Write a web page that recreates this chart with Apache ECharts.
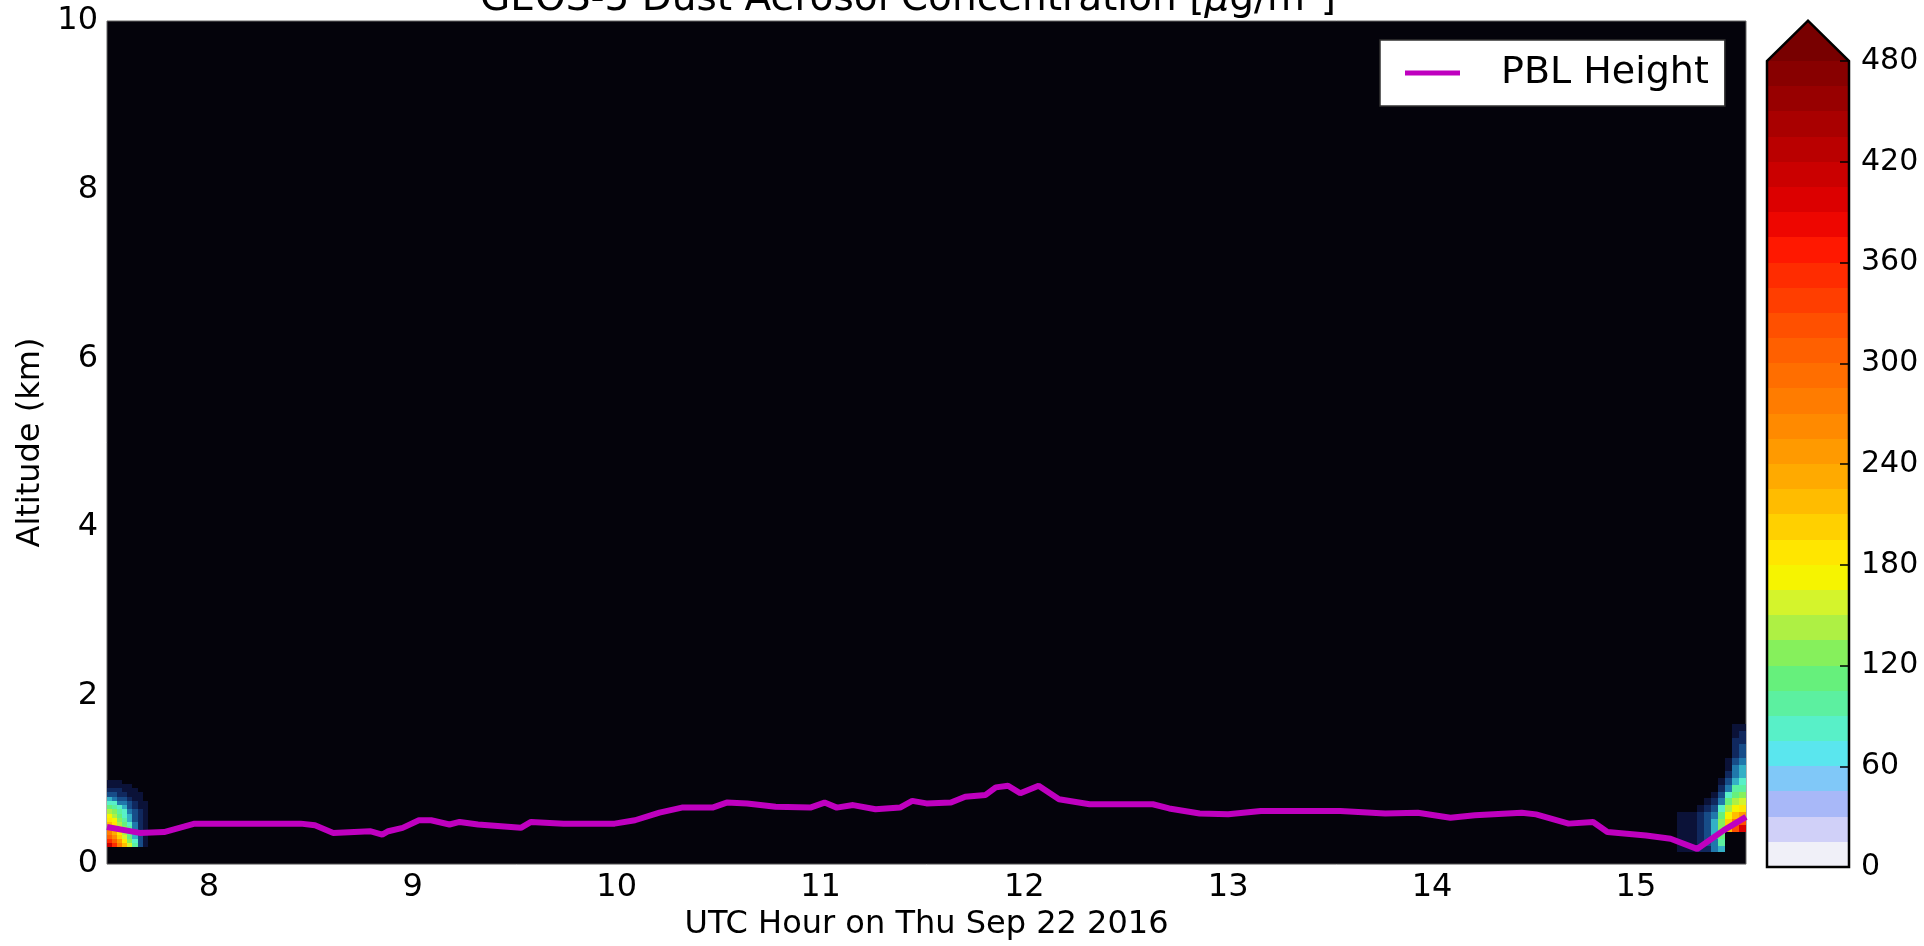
<!DOCTYPE html>
<html>
<head>
<meta charset="utf-8">
<title>GEOS-5 Dust Aerosol Concentration</title>
<script src="https://cdn.jsdelivr.net/npm/echarts@6/dist/echarts.min.js"></script>
<style>
  html, body { margin: 0; padding: 0; background: #fff; }
  #main { width: 1924px; height: 946px; }
</style>
</head>
<body>
<div id="main"></div>
<script>
// ticks
var xTicks = [8, 9, 10, 11, 12, 13, 14, 15];
var cbTicks = [0, 60, 120, 180, 240, 300, 360, 420, 480];

// contour levels, 0..480 by 15, plus an "over" colour for the arrow
var levelStep = 15;
var levelColors = [
  '#f0f0f8', '#d0d0f8', '#a8b8f8', '#80c8f8', '#5ae6ee', '#58f0c8', '#5cf0a0', '#66f07c',
  '#86f05c', '#aef044', '#d4f42c', '#f6f400', '#ffe600', '#ffd000', '#ffbc00', '#ffaa00',
  '#ff9a00', '#ff8a00', '#ff7c00', '#ff6e00', '#ff6000', '#ff5000', '#ff3e00', '#ff2c00',
  '#ff1800', '#ee0600', '#dc0000', '#cb0000', '#ba0000', '#a90000', '#980000', '#880000'
];
var overColor = '#780000';
// the faint levels look dark blue over the black curtain
var lowPlotColors = ['#0b1238', '#10285e', '#174c88', '#2078ac', '#34b0c6'];

// PBL height (km) along the flight
var pblHours = [7.50, 7.66, 7.78, 7.93, 8.45, 8.52, 8.61, 8.79, 8.85, 8.88,
  8.95, 9.03, 9.09, 9.18, 9.23, 9.32, 9.53, 9.58, 9.74, 9.99,
  10.09, 10.21, 10.32, 10.47, 10.54, 10.64, 10.78, 10.95, 11.02, 11.08,
  11.16, 11.27, 11.39, 11.45, 11.52, 11.64, 11.71, 11.81, 11.86, 11.92,
  11.98, 12.07, 12.17, 12.32, 12.53, 12.63, 12.71, 12.86, 13.00, 13.16,
  13.55, 13.77, 13.93, 14.09, 14.21, 14.44, 14.51, 14.67, 14.79, 14.86,
  15.05, 15.17, 15.30, 15.43, 15.54];
var pblAlt = [0.44, 0.37, 0.38, 0.48, 0.48, 0.46, 0.37, 0.39, 0.35, 0.39,
  0.43, 0.52, 0.52, 0.47, 0.50, 0.47, 0.43, 0.50, 0.48, 0.48,
  0.52, 0.61, 0.67, 0.67, 0.73, 0.72, 0.68, 0.67, 0.73, 0.67,
  0.70, 0.65, 0.67, 0.75, 0.72, 0.73, 0.80, 0.82, 0.91, 0.93,
  0.84, 0.93, 0.77, 0.71, 0.71, 0.71, 0.66, 0.60, 0.59, 0.63,
  0.63, 0.60, 0.61, 0.55, 0.58, 0.61, 0.59, 0.48, 0.50, 0.38,
  0.34, 0.30, 0.18, 0.40, 0.56];

// dust at the start of the curtain (ug/m3), rows bottom -> top
var leftDt = 0.025, leftDz = 0.05;
var leftTimes = [7.5125, 7.5375, 7.5625, 7.5875, 7.6125, 7.6375, 7.6625, 7.6875];
var leftAlts = [0.225, 0.275, 0.325, 0.375, 0.425, 0.475, 0.525, 0.575,
  0.625, 0.675, 0.725, 0.775, 0.825, 0.875, 0.925, 0.975];
var leftDust = [
  [407, 349, 273, 210, 151, 92, 42, 13],
  [359, 307, 240, 185, 133, 81, 37, 11],
  [310, 266, 208, 160, 115, 70, 32, 10],
  [276, 237, 185, 143, 103, 63, 29, 9],
  [247, 212, 166, 128, 92, 56, 26, 8],
  [218, 187, 146, 113, 81, 50, 23, 7],
  [194, 166, 130, 100, 72, 44, 20, 6],
  [173, 148, 116, 89, 64, 39, 18, 5],
  [146, 125, 98, 75, 54, 33, 15, 5],
  [116, 100, 78, 60, 43, 26, 12, 4],
  [87, 75, 59, 45, 32, 20, 9, 3],
  [60, 51, 40, 31, 22, 14, 6, 0],
  [39, 33, 26, 20, 14, 9, 4, 0],
  [23, 20, 16, 12, 9, 5, 0, 0],
  [12, 10, 8, 6, 4, 0, 0, 0],
  [5, 4, 3, 0, 0, 0, 0, 0]
];

// dust at the end of the curtain
var rightDt = 0.034, rightDz = 0.08;
var rightTimes = [15.217, 15.251, 15.285, 15.319, 15.353, 15.387, 15.421, 15.455, 15.489, 15.523];
var rightAlts = [0.18, 0.26, 0.34, 0.42, 0.50, 0.58, 0.66, 0.74, 0.82, 0.90,
  0.98, 1.06, 1.14, 1.22, 1.30, 1.38, 1.46, 1.54, 1.62];
var rightDust = [
  [8, 10, 12, 16, 25, 45, 70, 0, 0, 0],
  [8, 10, 14, 20, 32, 55, 90, 0, 0, 0],
  [8, 10, 14, 22, 36, 62, 105, 0, 0, 0],
  [8, 10, 14, 22, 38, 70, 130, 220, 320, 390],
  [8, 10, 13, 20, 36, 68, 125, 200, 270, 320],
  [6, 8, 11, 17, 30, 58, 110, 170, 210, 240],
  [0, 0, 0, 8, 18, 40, 85, 140, 175, 190],
  [0, 0, 0, 0, 8, 22, 55, 105, 140, 150],
  [0, 0, 0, 0, 0, 10, 30, 75, 110, 120],
  [0, 0, 0, 0, 0, 0, 15, 50, 90, 100],
  [0, 0, 0, 0, 0, 0, 8, 30, 70, 85],
  [0, 0, 0, 0, 0, 0, 0, 18, 55, 70],
  [0, 0, 0, 0, 0, 0, 0, 10, 45, 60],
  [0, 0, 0, 0, 0, 0, 0, 6, 35, 50],
  [0, 0, 0, 0, 0, 0, 0, 0, 28, 40],
  [0, 0, 0, 0, 0, 0, 0, 0, 22, 32],
  [0, 0, 0, 0, 0, 0, 0, 0, 16, 25],
  [0, 0, 0, 0, 0, 0, 0, 0, 12, 18],
  [0, 0, 0, 0, 0, 0, 0, 0, 8, 12]
];

function toCells(times, alts, grid, dt, dz) {
  var out = [];
  for (var j = 0; j < alts.length; j++) {
    for (var i = 0; i < times.length; i++) {
      if (grid[j][i] > 0) out.push([times[i], alts[j], grid[j][i], dt, dz]);
    }
  }
  return out;
}
var dustCells = toCells(leftTimes, leftAlts, leftDust, leftDt, leftDz)
  .concat(toCells(rightTimes, rightAlts, rightDust, rightDt, rightDz));

var levelBands = [];
for (var k = 0; k < levelColors.length; k++) {
  levelBands.push([k * levelStep, (k + 1) * levelStep, k]);
}
var cbMax = cbTicks[cbTicks.length - 1];
var arrowLen = 24;

function plotColor(v) {
  var b = Math.floor(v / levelStep);
  if (b < lowPlotColors.length) return lowPlotColors[b];
  return b >= levelColors.length ? overColor : levelColors[b];
}

function renderCell(params, api) {
  var t = api.value(0), z = api.value(1), v = api.value(2);
  var dt = api.value(3), dz = api.value(4);
  var p0 = api.coord([t - dt / 2, z + dz / 2]);
  var p1 = api.coord([t + dt / 2, z - dz / 2]);
  var x0 = Math.round(p0[0]), x1 = Math.round(p1[0]);
  var y0 = Math.round(p0[1]), y1 = Math.round(p1[1]);
  var cs = params.coordSys;
  var rect = echarts.graphic.clipRectByRect(
    { x: x0, y: y0, width: x1 - x0, height: y1 - y0 },
    { x: cs.x, y: cs.y, width: cs.width, height: cs.height });
  if (!rect) return;
  return { type: 'rect', shape: rect, style: { fill: plotColor(v) } };
}

function renderBand(params, api) {
  var p0 = api.coord([0, api.value(1)]);
  var p1 = api.coord([1, api.value(0)]);
  return {
    type: 'rect',
    shape: { x: p0[0], y: Math.round(p0[1]), width: p1[0] - p0[0], height: Math.round(p1[1]) - Math.round(p0[1]) },
    style: { fill: levelColors[api.value(2)] }
  };
}

function renderArrow(params, api) {
  var top = api.value(0), tip = api.value(1);
  var a = api.coord([0, 0]), b = api.coord([0, top]), c = api.coord([0.5, tip]);
  var d = api.coord([1, top]), e = api.coord([1, 0]);
  return {
    type: 'group',
    children: [
      { type: 'polygon', shape: { points: [b, c, d] }, style: { fill: overColor } },
      { type: 'polygon', shape: { points: [a, b, c, d, e] },
        style: { fill: 'none', stroke: '#000', lineWidth: 2.5 } }
    ]
  };
}

var font = 'DejaVu Sans';
var chart = echarts.init(document.getElementById('main'));
var option = {
  backgroundColor: '#ffffff',
  animation: false,
  title: {
    text: '{n|GEOS-5 Dust Aerosol Concentration [}{i|\u03bc}{n|g/m\u00b3]}',
    left: 908, top: -20, padding: 0, textAlign: 'center',
    textStyle: {
      fontWeight: 'normal',
      rich: {
        n: { fontSize: 39, fontFamily: font, fontWeight: 'normal', color: '#000' },
        i: { fontSize: 39, fontFamily: font, fontWeight: 'normal', fontStyle: 'italic', color: '#000' }
      }
    }
  },
  legend: {
    data: ['PBL Height'],
    left: 1380, top: 40,
    backgroundColor: '#fff', borderColor: '#333', borderWidth: 1.5, borderRadius: 0,
    padding: [14, 16, 14, 25],
    icon: 'rect', itemWidth: 55, itemHeight: 5,
    selectedMode: false,
    textStyle: { fontSize: 38, color: '#000', fontFamily: font, padding: [0, 0, 0, 36] }
  },
  grid: [
    { left: 107, top: 21, width: 1639, height: 846, show: true,
      backgroundColor: '#04030b', borderColor: '#666', borderWidth: 1 },
    { left: 1767, top: 61, width: 82, height: 806 }
  ],
  xAxis: [
    {
      type: 'value', gridIndex: 0, min: 7.5, max: 15.54,
      name: 'UTC Hour on Thu Sep 22 2016', nameLocation: 'middle', nameGap: 42,
      nameTextStyle: { fontSize: 32, fontFamily: font, color: '#000' },
      axisLine: { show: false, onZero: false }, splitLine: { show: false },
      axisTick: { show: false, customValues: xTicks },
      axisLabel: { customValues: xTicks, fontSize: 32, fontFamily: font, color: '#000', margin: 8 }
    },
    { type: 'value', gridIndex: 1, min: 0, max: 1, show: false }
  ],
  yAxis: [
    {
      type: 'value', gridIndex: 0, min: 0, max: 10, interval: 2,
      name: 'Altitude (km)', nameLocation: 'middle', nameGap: 56,
      nameTextStyle: { fontSize: 32, fontFamily: font, color: '#000' },
      axisLine: { show: false, onZero: false }, splitLine: { show: false }, axisTick: { show: false },
      axisLabel: { fontSize: 32, fontFamily: font, color: '#000', margin: 9 }
    },
    {
      type: 'value', gridIndex: 1, min: 0, max: cbMax, interval: 60, position: 'right', z: 10,
      axisLine: { show: false, onZero: false }, splitLine: { show: false },
      axisTick: { show: true, inside: true, length: 9, lineStyle: { color: '#000', width: 1.5 } },
      axisLabel: { fontSize: 30, fontFamily: font, color: '#000', margin: 12 }
    }
  ],
  series: [
    {
      type: 'custom', name: 'dust', xAxisIndex: 0, yAxisIndex: 0,
      renderItem: renderCell, data: dustCells, silent: true, z: 1
    },
    {
      type: 'line', name: 'PBL Height', xAxisIndex: 0, yAxisIndex: 0,
      data: pblHours.map(function (h, i) { return [h, pblAlt[i]]; }),
      showSymbol: false, symbol: 'none', color: '#bf00bf',
      lineStyle: { color: '#bf00bf', width: 6 }, z: 3
    },
    {
      type: 'custom', name: 'colorbar', xAxisIndex: 1, yAxisIndex: 1,
      renderItem: renderBand, data: levelBands, silent: true, z: 1
    },
    {
      type: 'custom', name: 'colorbar-arrow', xAxisIndex: 1, yAxisIndex: 1,
      renderItem: renderArrow, data: [[cbMax, cbMax + arrowLen]], silent: true, z: 2
    }
  ]
};
chart.setOption(option);
</script>
</body>
</html>
